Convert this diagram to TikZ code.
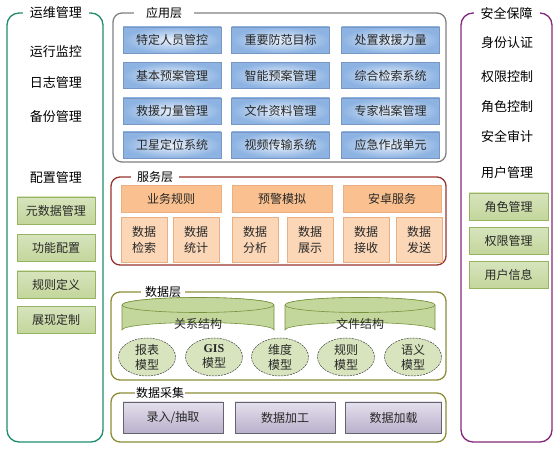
\documentclass[tikz,border=0pt]{standalone}
\usepackage{fontspec}
\newfontfamily\cjk{Noto Sans CJK SC}
\newfontfamily\serifL{Liberation Serif}
\usetikzlibrary{shapes.geometric}
\definecolor{tealc}{RGB}{30,140,110}
\definecolor{greyc}{RGB}{128,128,128}
\definecolor{redc}{RGB}{150,50,45}
\definecolor{olivec}{RGB}{140,140,55}
\definecolor{purpc}{RGB}{130,40,120}
\definecolor{blueE}{RGB}{141,179,226}
\definecolor{blueC}{RGB}{232,240,251}
\definecolor{blueB}{RGB}{120,150,195}
\definecolor{orH}{RGB}{250,192,143}
\definecolor{orS}{RGB}{251,214,183}
\definecolor{orB}{RGB}{235,175,130}
\definecolor{grT}{RGB}{215,228,189}
\definecolor{grF}{RGB}{195,214,155}
\definecolor{grB}{RGB}{150,180,95}
\definecolor{cylB}{RGB}{118,146,60}
\definecolor{puT}{RGB}{228,224,236}
\definecolor{puB}{RGB}{186,176,204}
\definecolor{puD}{RGB}{100,100,110}
\definecolor{txt}{RGB}{40,40,40}
\tikzset{
  x=1pt, y=-1pt,
  frame/.style={line width=1.3pt, rounded corners=9pt},
  sideframe/.style={line width=1.3pt, rounded corners=12pt},
  ttl/.style={fill=white, inner ysep=2pt, inner xsep=6pt, font=\cjk\fontsize{12}{14}\selectfont},
  sidettl/.style={fill=white, inner ysep=3pt, inner xsep=7pt, font=\cjk\fontsize{13}{15}\selectfont},
  item/.style={inner sep=0pt, font=\cjk\fontsize{13}{15}\selectfont, text=black},
  bx/.style={inner sep=0pt, font=\cjk\fontsize{12}{14}\selectfont, text=txt, align=center},
  bluebox/.style={bx, draw=blueB, line width=0.4pt, inner color=blueC, outer color=blueE, minimum width=98pt, minimum height=26pt},
  orhead/.style={bx, fill=orH, draw=orB, line width=0.3pt, minimum height=27pt},
  orsmall/.style={bx, fill=orS, draw=orB, line width=0.3pt, minimum width=46pt, minimum height=45pt, font=\cjk\fontsize{12}{16}\selectfont},
  greenbox/.style={bx, top color=grT, bottom color=grF, draw=grB, line width=0.5pt, minimum height=27pt},
  model/.style={bx, ellipse, draw=black!75, dashed, dash pattern=on 2pt off 1pt, line width=0.5pt, fill=grT, minimum width=57pt, minimum height=38pt, font=\cjk\fontsize{12}{15}\selectfont},
  pubox/.style={bx, top color=puT, bottom color=puB, draw=puD, line width=0.5pt, minimum height=31pt},
  cyl/.style={fill=grF, draw=cylB, line width=0.6pt},
}
\begin{document}
\begin{tikzpicture}
\useasboundingbox (0,0) rectangle (558,449);

% ---------- left panel ----------
\draw[sideframe, draw=tealc] (7,13) rectangle (103,442);
\node[sidettl] (lt) at (56,13) {运维管理};
\node[item] (l1) at (56,52) {运行监控};
\node[item] (l2) at (56,83) {日志管理};
\node[item] (l3) at (56,117) {备份管理};
\node[item] (l4) at (56,178) {配置管理};
\node[greenbox, minimum width=78pt] (lg1) at (56,210.5) {元数据管理};
\node[greenbox, minimum width=78pt] (lg2) at (56,248) {功能配置};
\node[greenbox, minimum width=78pt] (lg3) at (56,284.5) {规则定义};
\node[greenbox, minimum width=78pt] (lg4) at (56,320) {展现定制};

% ---------- right panel ----------
\draw[sideframe, draw=purpc] (461,13) rectangle (552,442);
\node[sidettl] (rt) at (506.5,13) {安全保障};
\node[item] (r1) at (507,43) {身份认证};
\node[item] (r2) at (507,76.5) {权限控制};
\node[item] (r3) at (507,106.5) {角色控制};
\node[item] (r4) at (507,136.5) {安全审计};
\node[item] (r5) at (507,173) {用户管理};
\node[greenbox, minimum width=79pt] (rg1) at (508.5,206.5) {角色管理};
\node[greenbox, minimum width=79pt] (rg2) at (508.5,241) {权限管理};
\node[greenbox, minimum width=79pt] (rg3) at (508.5,275) {用户信息};

% ---------- application layer ----------
\draw[frame, draw=greyc] (113,13) rectangle (446,162);
\node[ttl, inner xsep=12pt] (at) at (164,13) {应用层};
\node[bluebox] (a11) at (172,40) {特定人员管控};
\node[bluebox] (a12) at (280.5,40) {重要防范目标};
\node[bluebox] (a13) at (390.5,40) {处置救援力量};
\node[bluebox] (a21) at (172,75.5) {基本预案管理};
\node[bluebox] (a22) at (280.5,75.5) {智能预案管理};
\node[bluebox] (a23) at (390.5,75.5) {综合检索系统};
\node[bluebox] (a31) at (172,111) {救援力量管理};
\node[bluebox] (a32) at (280.5,111) {文件资料管理};
\node[bluebox] (a33) at (390.5,111) {专家档案管理};
\node[bluebox] (a41) at (172,145) {卫星定位系统};
\node[bluebox] (a42) at (280.5,145) {视频传输系统};
\node[bluebox] (a43) at (390.5,145) {应急作战单元};

% ---------- service layer ----------
\draw[frame, draw=redc] (111,177) rectangle (446,265);
\node[ttl] (st) at (155,177) {服务层};
\node[orhead, minimum width=100pt] (s1) at (171,198.5) {业务规则};
\node[orhead, minimum width=100pt] (s2) at (282,198.5) {预警模拟};
\node[orhead, minimum width=98pt] (s3) at (392,198.5) {安卓服务};
\node[orsmall] (s11) at (144,239.5) {数据\\检索};
\node[orsmall] (s12) at (196,239.5) {数据\\统计};
\node[orsmall] (s21) at (255,239.5) {数据\\分析};
\node[orsmall] (s22) at (310,239.5) {数据\\展示};
\node[orsmall] (s31) at (366,239.5) {数据\\接收};
\node[orsmall] (s32) at (419,239.5) {数据\\发送};

% ---------- data layer ----------
\draw[frame, draw=olivec] (111,292) rectangle (446,380);
\node[ttl, inner xsep=4pt] (dt) at (163,292) {数据层};
% cylinders
\draw[cyl] (122,305) -- (122,330) arc[start angle=180, end angle=360, x radius=76, y radius=7.5] -- (274,305) arc[start angle=0, end angle=-180, x radius=76, y radius=7.5] -- cycle;
\draw[cyl] (198,305) ellipse[x radius=76, y radius=7.5];
\node[bx] (c1) at (198,323.5) {关系结构};
\draw[cyl] (285,305) -- (285,330) arc[start angle=180, end angle=360, x radius=75, y radius=7.5] -- (435,305) arc[start angle=0, end angle=-180, x radius=75, y radius=7.5] -- cycle;
\draw[cyl] (360,305) ellipse[x radius=75, y radius=7.5];
\node[bx] (c2) at (360,323.5) {文件结构};
% models
\node[model] (m1) at (147,357) {报表\\模型};
\node[model] (m2) at (214,357) {{\serifL\bfseries GIS}\\模型};
\node[model] (m3) at (280,357) {维度\\模型};
\node[model] (m4) at (346,357) {规则\\模型};
\node[model] (m5) at (413,357) {语义\\模型};

% ---------- data collection ----------
\draw[frame, draw=olivec] (111,393) rectangle (446,442);
\node[ttl, inner xsep=1pt] (ct) at (160,393) {数据采集};
\node[pubox, minimum width=100pt] (p1) at (173,417.5) {录入/抽取};
\node[pubox, minimum width=100pt] (p2) at (285,417.5) {数据加工};
\node[pubox, minimum width=96pt] (p3) at (393.5,417.5) {数据加载};
\end{tikzpicture}
\end{document}
